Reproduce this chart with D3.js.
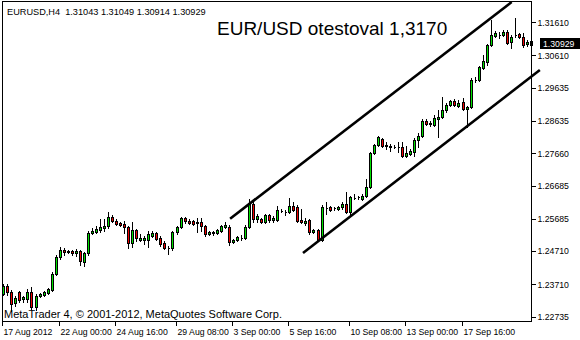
<!DOCTYPE html>
<html>
<head>
<meta charset="utf-8">
<script src="https://cdn.jsdelivr.net/npm/d3@7"></script>
<style>
html, body { margin: 0; padding: 0; background: #fff; }
svg { display: block; }
</style>
</head>
<body>
<div id="chart"></div>
<script>
const WIDTH = 580;
const HEIGHT = 340;
const FRAME = {left: 2.5, top: 1.5, right: 531.5, bottom: 321.5};
const SMALL_FONT = '"Liberation Sans", Arial, sans-serif';
const AXIS_SIZE = 8.7;

// EURUSD H4 bars, oldest first
var openPrices = [
    1.2343,1.2367,1.2349,1.2316,1.2349,1.2328,1.2328,1.2349,1.2304,1.2337,
    1.2340,1.2346,1.2355,1.2403,1.2454,1.2475,1.2472,1.2472,1.2466,1.2472,
    1.2439,1.2466,1.2526,1.2529,1.2535,1.2541,1.2547,1.2574,1.2562,1.2556,
    1.2553,1.2544,1.2496,1.2535,1.2505,1.2505,1.2505,1.2517,1.2526,1.2511,
    1.2496,1.2481,1.2481,1.2529,1.2544,1.2571,1.2562,1.2562,1.2559,1.2559,
    1.2547,1.2523,1.2529,1.2526,1.2532,1.2544,1.2544,1.2499,1.2505,1.2511,
    1.2511,1.2544,1.2613,1.2568,1.2568,1.2559,1.2580,1.2565,1.2565,1.2592,
    1.2589,1.2589,1.2607,1.2604,1.2565,1.2556,1.2565,1.2529,1.2535,1.2505,
    1.2601,1.2604,1.2601,1.2598,1.2604,1.2613,1.2589,1.2631,1.2634,1.2628,
    1.2637,1.2664,1.2766,1.2790,1.2808,1.2790,1.2787,1.2784,1.2784,1.2784,
    1.2757,1.2763,1.2769,1.2805,1.2817,1.2862,1.2856,1.2850,1.2868,1.2877,
    1.2898,1.2913,1.2925,1.2910,1.2922,1.2901,1.2907,1.2988,1.2988,1.3024,
    1.3042,1.3093,1.3120,1.3123,1.3123,1.3132,1.3102,1.3123,1.3126,1.3117,
    1.3096,1.31043
];
var highPrices = [
    1.2373,1.2373,1.2355,1.2337,1.2352,1.2337,1.2358,1.2364,1.2343,1.2346,
    1.2352,1.2361,1.2409,1.2460,1.2484,1.2481,1.2475,1.2475,1.2478,1.2475,
    1.2469,1.2532,1.2541,1.2547,1.2568,1.2568,1.2589,1.2580,1.2568,1.2559,
    1.2562,1.2547,1.2559,1.2538,1.2523,1.2517,1.2532,1.2532,1.2529,1.2517,
    1.2502,1.2487,1.2532,1.2547,1.2574,1.2574,1.2568,1.2565,1.2571,1.2571,
    1.2550,1.2532,1.2532,1.2538,1.2550,1.2559,1.2550,1.2508,1.2517,1.2520,
    1.2550,1.2628,1.2622,1.2583,1.2571,1.2583,1.2583,1.2577,1.2607,1.2598,
    1.2595,1.2631,1.2619,1.2610,1.2598,1.2571,1.2568,1.2538,1.2538,1.2610,
    1.2619,1.2607,1.2604,1.2607,1.2619,1.2649,1.2637,1.2643,1.2637,1.2643,
    1.2688,1.2769,1.2793,1.2817,1.2811,1.2799,1.2793,1.2790,1.2799,1.2799,
    1.2787,1.2778,1.2811,1.2826,1.2868,1.2868,1.2862,1.2883,1.2898,1.2937,
    1.2919,1.2928,1.2931,1.2928,1.2934,1.2910,1.2994,1.2997,1.3030,1.3063,
    1.3096,1.3168,1.3135,1.3132,1.3138,1.3138,1.3123,1.3174,1.3129,1.3129,
    1.3108,1.31049
];
var lowPrices = [
    1.2340,1.2340,1.2292,1.2307,1.2319,1.2319,1.2319,1.2298,1.2295,1.2334,
    1.2337,1.2343,1.2352,1.2400,1.2448,1.2460,1.2466,1.2460,1.2457,1.2430,
    1.2427,1.2460,1.2523,1.2526,1.2529,1.2532,1.2541,1.2559,1.2550,1.2547,
    1.2526,1.2481,1.2484,1.2502,1.2502,1.2493,1.2484,1.2514,1.2505,1.2487,
    1.2478,1.2463,1.2475,1.2523,1.2541,1.2556,1.2553,1.2550,1.2529,1.2532,
    1.2517,1.2520,1.2520,1.2523,1.2529,1.2541,1.2490,1.2496,1.2502,1.2505,
    1.2508,1.2541,1.2559,1.2559,1.2556,1.2556,1.2559,1.2559,1.2562,1.2589,
    1.2580,1.2586,1.2592,1.2559,1.2556,1.2550,1.2523,1.2526,1.2502,1.2502,
    1.2583,1.2592,1.2595,1.2595,1.2598,1.2586,1.2577,1.2628,1.2628,1.2625,
    1.2634,1.2661,1.2763,1.2787,1.2784,1.2778,1.2772,1.2781,1.2769,1.2754,
    1.2754,1.2760,1.2757,1.2784,1.2814,1.2850,1.2847,1.2847,1.2814,1.2874,
    1.2892,1.2910,1.2910,1.2907,1.2898,1.2844,1.2904,1.2982,1.2985,1.3021,
    1.3033,1.3090,1.3117,1.3114,1.3120,1.3096,1.3084,1.3117,1.3114,1.3087,
    1.3090,1.30914
];
var closePrices = [
    1.2367,1.2349,1.2313,1.2331,1.2325,1.2334,1.2349,1.2304,1.2337,1.2343,
    1.2349,1.2358,1.2403,1.2454,1.2475,1.2469,1.2469,1.2466,1.2472,1.2442,
    1.2466,1.2526,1.2532,1.2538,1.2544,1.2547,1.2574,1.2562,1.2553,1.2550,
    1.2544,1.2496,1.2535,1.2511,1.2511,1.2511,1.2523,1.2526,1.2508,1.2493,
    1.2481,1.2481,1.2529,1.2544,1.2571,1.2562,1.2556,1.2553,1.2556,1.2547,
    1.2523,1.2529,1.2526,1.2535,1.2547,1.2550,1.2499,1.2505,1.2514,1.2511,
    1.2544,1.2616,1.2568,1.2577,1.2559,1.2580,1.2565,1.2571,1.2595,1.2592,
    1.2589,1.2607,1.2595,1.2562,1.2559,1.2562,1.2529,1.2535,1.2505,1.2604,
    1.2601,1.2595,1.2601,1.2604,1.2613,1.2589,1.2634,1.2631,1.2634,1.2637,
    1.2664,1.2766,1.2790,1.2814,1.2787,1.2787,1.2784,1.2784,1.2784,1.2757,
    1.2766,1.2772,1.2805,1.2817,1.2862,1.2853,1.2853,1.2871,1.2877,1.2898,
    1.2913,1.2925,1.2913,1.2919,1.2901,1.2907,1.2988,1.2988,1.3027,1.3045,
    1.3093,1.3123,1.3129,1.3123,1.3132,1.3099,1.3117,1.3123,1.3117,1.3093,
    1.3102,1.30929
];

var priceTicks = [1.31610, 1.30610, 1.29635, 1.28635, 1.27660, 1.26685, 1.25685, 1.24710, 1.23710, 1.22735];
var timeLabels = ["17 Aug 2012", "22 Aug 00:00", "24 Aug 16:00", "29 Aug 08:00", "3 Sep 00:00",
                  "5 Sep 16:00", "10 Sep 08:00", "13 Sep 00:00", "17 Sep 16:00"];
var timeLabelBars = [0, 14, 28, 43, 57, 71, 86, 100, 114];

// channel lines drawn on the chart: [bar, price] end points
var upperChannel = [[56.3, 1.2569], [126.2, 1.3222]];
var lowerChannel = [[74.4, 1.24655], [133.2, 1.30172]];

var symbolName = "EURUSD,H4";
var chartTitle = "EUR/USD otestoval 1,3170";
var copyrightText = "MetaTrader 4, \u00a9 2001-2012, MetaQuotes Software Corp.";

var translate = function (x, y) {
    return "translate(" + x + "," + y + ")";
};

var drawChart = function () {
    var n = closePrices.length;
    var bars = d3.range(n).map(function (i) {
        return {i: i, o: openPrices[i], h: highPrices[i], l: lowPrices[i], c: closePrices[i]};
    });

    var xScale = d3.scaleLinear().domain([0, n - 1]).range([3.3, 531]);
    var yScale = d3.scaleLinear().domain([1.22735, 1.31610]).range([316.7, 22.3]);

    var svg = d3.select('#chart').append('svg')
        .attr('width', WIDTH)
        .attr('height', HEIGHT);

    svg.append('rect').attr('width', WIDTH).attr('height', HEIGHT).attr('fill', '#fff');

    svg.append('clipPath').attr('id', 'plot-clip')
        .append('rect')
        .attr('x', FRAME.left).attr('y', FRAME.top)
        .attr('width', FRAME.right - FRAME.left).attr('height', FRAME.bottom - FRAME.top);

    // candles
    var candles = svg.append('g').attr('shape-rendering', 'crispEdges');
    var cx = function (d) { return Math.round(xScale(d.i)); };

    candles.selectAll('line.wick')
        .data(bars)
        .enter()
        .append('line')
        .classed('wick', true)
        .attr('x1', function (d) { return cx(d) + 0.5; })
        .attr('x2', function (d) { return cx(d) + 0.5; })
        .attr('y1', function (d) { return Math.round(yScale(d.h)); })
        .attr('y2', function (d) { return Math.round(yScale(d.l)) + 1; })
        .attr('stroke', '#000')
        .attr('stroke-width', 1);

    candles.selectAll('path.body')
        .data(bars)
        .enter()
        .append('path')
        .classed('body', true)
        .attr('d', function (d) {
            var top = Math.round(yScale(Math.max(d.o, d.c)));
            var bot = Math.round(yScale(Math.min(d.o, d.c)));
            var x0 = cx(d) - 0.5;
            return 'M' + x0 + ',' + (top + 0.5) + 'h2v' + (bot - top) + 'h-2z';
        })
        .attr('fill', function (d) {
            if (d.c > d.o) return '#00e000';
            if (d.c < d.o) return '#f00000';
            return 'none';
        })
        .attr('stroke', '#000')
        .attr('stroke-width', 1);

    // channel lines
    var line = d3.line()
        .x(function (d) { return xScale(d[0]); })
        .y(function (d) { return yScale(d[1]); });

    svg.append('path')
        .attr('d', line(upperChannel))
        .attr('clip-path', 'url(#plot-clip)')
        .attr('fill', 'none')
        .attr('stroke', '#000')
        .attr('stroke-width', 2.6);

    svg.append('path')
        .attr('d', line(lowerChannel))
        .attr('fill', 'none')
        .attr('stroke', '#000')
        .attr('stroke-width', 2.6);

    // frame
    svg.append('rect')
        .attr('x', FRAME.left).attr('y', FRAME.top)
        .attr('width', FRAME.right - FRAME.left).attr('height', FRAME.bottom - FRAME.top)
        .attr('fill', 'none')
        .attr('stroke', '#000')
        .attr('stroke-width', 1)
        .attr('shape-rendering', 'crispEdges');

    // price axis
    var yAxis = d3.axisRight(yScale)
        .tickValues(priceTicks)
        .tickFormat(d3.format('.5f'))
        .tickSize(4)
        .tickPadding(2);

    var yAxisG = svg.append('g')
        .attr('transform', translate(FRAME.right, 0))
        .call(yAxis);
    yAxisG.select('.domain').remove();
    yAxisG.selectAll('text')
        .attr('font-family', SMALL_FONT)
        .attr('font-size', AXIS_SIZE)
        .attr('fill', '#000');
    yAxisG.selectAll('line').attr('stroke', '#000').attr('shape-rendering', 'crispEdges');

    // time axis
    var xAxis = d3.axisBottom(xScale)
        .tickValues(timeLabelBars)
        .tickFormat(function (d, i) { return timeLabels[i]; })
        .tickSize(4)
        .tickPadding(3);

    var xAxisG = svg.append('g')
        .attr('transform', translate(0, FRAME.bottom))
        .call(xAxis);
    xAxisG.select('.domain').remove();
    xAxisG.selectAll('.tick line')
        .attr('stroke', '#000')
        .attr('shape-rendering', 'crispEdges');
    xAxisG.selectAll('.tick').attr('transform', function (d) {
        return translate(Math.round(xScale(d)) - 0.5, 0);
    });
    xAxisG.selectAll('text')
        .attr('text-anchor', 'start')
        .attr('x', 1)
        .attr('font-family', SMALL_FONT)
        .attr('font-size', AXIS_SIZE)
        .attr('fill', '#000');

    // bid label
    var lastClose = closePrices[n - 1];
    var bidY = yScale(lastClose) - 1.5;
    svg.append('rect')
        .attr('x', 540).attr('y', Math.round(bidY - 5))
        .attr('width', 40).attr('height', 11)
        .attr('fill', '#000');
    svg.append('text')
        .attr('x', 543).attr('y', bidY + 3.5)
        .attr('font-family', SMALL_FONT)
        .attr('font-size', AXIS_SIZE)
        .attr('fill', '#fff')
        .text(d3.format('.5f')(lastClose));

    // header with last bar values
    var fmt = d3.format('.5f');
    svg.append('text')
        .attr('x', 7).attr('y', 15)
        .attr('font-family', SMALL_FONT)
        .attr('font-size', 9.2)
        .attr('fill', '#000')
        .attr('xml:space', 'preserve')
        .text(symbolName + '  ' + fmt(openPrices[n - 1]) + ' ' + fmt(highPrices[n - 1]) + ' ' +
              fmt(lowPrices[n - 1]) + ' ' + fmt(lastClose));

    svg.append('text')
        .attr('x', 217).attr('y', 35)
        .attr('font-family', '"Liberation Sans", Arial, sans-serif')
        .attr('font-size', 19)
        .attr('fill', '#000')
        .text(chartTitle);

    svg.append('text')
        .attr('x', 4).attr('y', 318)
        .attr('font-family', SMALL_FONT)
        .attr('font-size', 11)
        .attr('fill', '#000')
        .text(copyrightText);
};

window.onload = drawChart;
</script>
</body>
</html>
